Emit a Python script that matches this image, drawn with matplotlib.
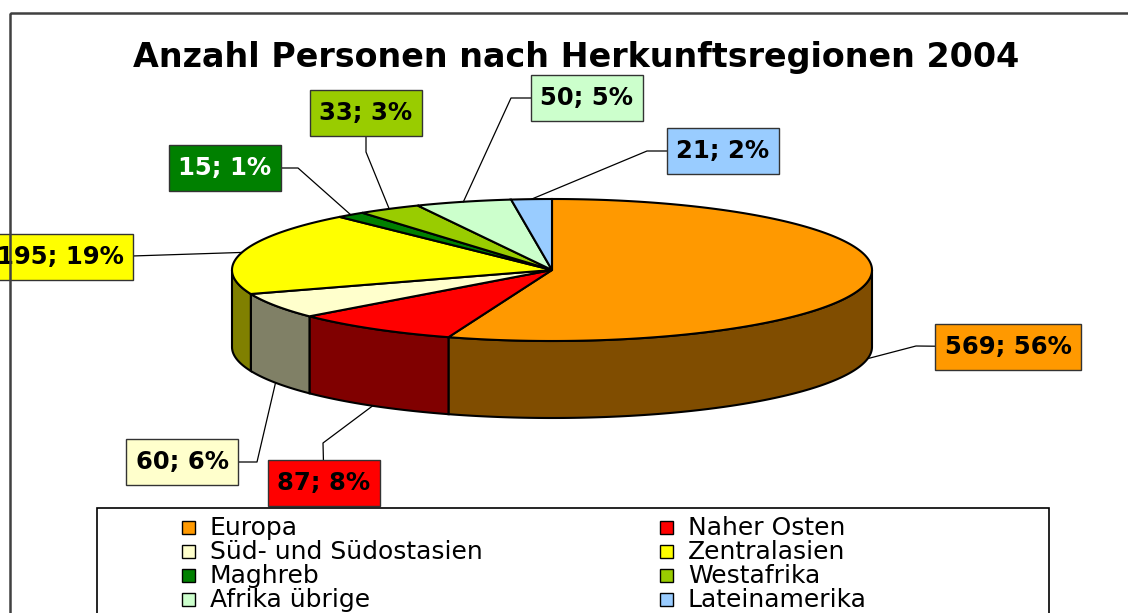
import matplotlib
matplotlib.use("Agg")

import numpy as np
import matplotlib.pyplot as plt
from matplotlib.patches import Rectangle, Polygon
from matplotlib.colors import to_rgb

# data
regions = [
    "Europa", "Naher Osten", "Süd- und Südostasien", "Zentralasien",
    "Maghreb", "Westafrika", "Afrika übrige", "Lateinamerika",
]
counts = [569, 87, 60, 195, 15, 33, 50, 21]
percents = [56, 8, 6, 19, 1, 3, 5, 2]
colors = ["#FF9900", "#FF0000", "#FFFFCC", "#FFFF00",
          "#008000", "#99CC00", "#CCFFCC", "#99CCFF"]
text_colors = ["black", "black", "black", "black",
               "white", "black", "black", "black"]

# layout (pixel coords of the canvas)
W, H = 1128, 613
cx, cy = 552, 270          # pie centre
ra, rb = 320, 71           # ellipse half axes
depth = 77                 # height of the pie side

# label box centres and leader elbows
box_pos = [(1008, 347), (324, 483), (182, 462), (60, 257),
           (225, 168), (366, 113), (587, 98), (723, 151)]
elbows = [(916, 346), (323, 443), (257, 462), (132, 256),
          (298, 168), (366, 152), (511, 98), (647, 151)]
pad_x, pad_y = 9.5, 11

plt.rcParams["font.family"] = ["DejaVu Sans"]

fig = plt.figure(figsize=(W / 100, H / 100), dpi=100)
ax = fig.add_axes([0, 0, 1, 1])
ax.set_xlim(0, W)
ax.set_ylim(H, 0)
ax.axis("off")


def ell(t, dy=0):
    t = np.radians(t)
    return cx + ra * np.cos(t), cy - rb * np.sin(t) + dy


total = float(sum(counts))
cum = np.concatenate([[0], np.cumsum(counts)])
starts = 90 - 360 * cum[:-1] / total
ends = 90 - 360 * cum[1:] / total

# sides (front half only)
for s, e, col in zip(starts, ends, colors):
    lo, hi = max(e, -180), min(s, 0)
    if lo >= hi:
        continue
    t = np.linspace(lo, hi, 120)
    x, y = ell(t)
    xb, yb = ell(t[::-1], depth)
    side = tuple(c * 0.5 for c in to_rgb(col))
    ax.add_patch(Polygon(np.column_stack([np.r_[x, xb], np.r_[y, yb]]),
                         closed=True, facecolor=side, edgecolor="black",
                         lw=1.5, zorder=2))

# top wedges
for s, e, col in zip(starts, ends, colors):
    t = np.linspace(s, e, max(int(abs(s - e)) * 2, 4))
    x, y = ell(t)
    ax.add_patch(Polygon(np.column_stack([np.r_[cx, x], np.r_[cy, y]]),
                         closed=True, facecolor=col, edgecolor="black",
                         lw=1.5, zorder=3))

# data labels with leader lines
renderer = fig.canvas.get_renderer()
for i in range(len(counts)):
    mid = (starts[i] + ends[i]) / 2
    px, py = ell(mid)
    if np.sin(np.radians(mid)) < 0:
        py += depth
    bx, by = box_pos[i]
    ex, ey = elbows[i]
    ax.plot([px, ex, bx], [py, ey, by], color="black", lw=0.9, zorder=4)
    txt = ax.text(bx, by, f"{counts[i]}; {percents[i]}%", ha="center",
                  va="center", fontsize=17.5, fontweight="bold",
                  color=text_colors[i], zorder=6)
    bb = txt.get_window_extent(renderer)
    w, h = bb.width + 2 * pad_x, bb.height + 2 * pad_y
    ax.add_patch(Rectangle((bx - w / 2, by - h / 2), w, h,
                           facecolor=colors[i], edgecolor="#333333",
                           lw=1, zorder=5))

# title
ax.text(576, 67, "Anzahl Personen nach Herkunftsregionen 2004", ha="center",
        va="baseline", fontsize=24, fontweight="bold", zorder=6)

# legend
ax.add_patch(Rectangle((97, 508), 952, 200, facecolor="white",
                       edgecolor="black", lw=1.2, zorder=7))
col_x = [182, 660]
row_y = [527, 551, 575, 599]
for i, name in enumerate(regions):
    x0 = col_x[i % 2]
    y0 = row_y[i // 2]
    ax.add_patch(Rectangle((x0, y0 - 6.5), 13, 13, facecolor=colors[i],
                           edgecolor="black", lw=1, zorder=8))
    ax.text(x0 + 28, y0 + 1, name, ha="left", va="center", fontsize=18,
            zorder=8)

# chart area border
ax.add_patch(Rectangle((10, 13), 1200, 700, facecolor="none",
                       edgecolor="#404040", lw=1.8, zorder=9))

fig.savefig("out.png", dpi=100)
